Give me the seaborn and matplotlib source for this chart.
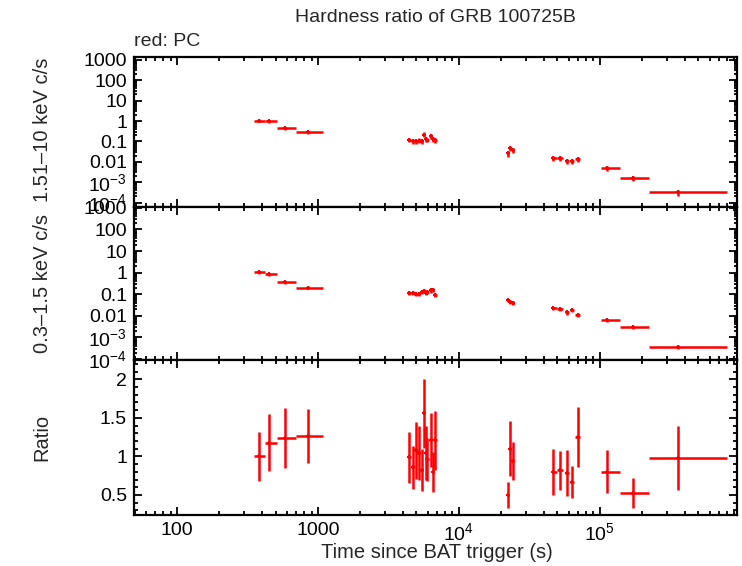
import matplotlib
matplotlib.use("Agg")
import matplotlib.pyplot as plt
import matplotlib.ticker as mticker
import pandas as pd
import seaborn as sns

# time bins (s since BAT trigger)
time = [384, 452, 587, 853,
        4442, 4694, 4955, 5177, 5465, 5648, 5834, 5960, 6298, 6570, 6790,
        22370, 23110, 24150,
        46680, 52290, 58610, 63610, 69470,
        112200, 171400, 357500]
time_lo = [351, 421, 509, 694,
           4330, 4570, 4820, 5060, 5320, 5560, 5740, 5900, 6130, 6430, 6680,
           21900, 22750, 23700,
           45500, 49500, 56500, 61500, 67000,
           101600, 138700, 222600]
time_hi = [421, 509, 694, 1091,
           4570, 4820, 5060, 5320, 5560, 5740, 5900, 6130, 6430, 6680, 6950,
           22750, 23500, 24600,
           49500, 54500, 60500, 65500, 72000,
           138700, 222600, 795900]

# 1.51-10 keV count rate
hard_rate = [1.05, 1.0, 0.45, 0.29,
             0.119, 0.103, 0.108, 0.110, 0.107, 0.218, 0.126, 0.12, 0.18, 0.128, 0.115,
             0.026, 0.046, 0.038,
             0.0148, 0.0148, 0.011, 0.011, 0.0138,
             0.0048, 0.00155, 0.00032]
hard_err = [0.2, 0.18, 0.08, 0.05,
            0.03, 0.03, 0.03, 0.03, 0.03, 0.06, 0.035, 0.03, 0.05, 0.035, 0.03,
            0.008, 0.012, 0.01,
            0.0035, 0.0035, 0.003, 0.003, 0.0035,
            0.0012, 0.0004, 0.0001]

# 0.3-1.5 keV count rate
soft_rate = [1.07, 0.83, 0.36, 0.2,
             0.12, 0.12, 0.10, 0.105, 0.13, 0.14, 0.12, 0.125, 0.15, 0.16, 0.095,
             0.053, 0.046, 0.039,
             0.022, 0.0205, 0.0144, 0.018, 0.011,
             0.0063, 0.003, 0.00036]
soft_err = [0.17, 0.13, 0.06, 0.03,
            0.025, 0.025, 0.02, 0.02, 0.025, 0.03, 0.025, 0.025, 0.03, 0.03, 0.02,
            0.01, 0.009, 0.008,
            0.004, 0.004, 0.003, 0.0035, 0.0025,
            0.001, 0.0005, 0.00007]

# hardness ratio
ratio = [1.00, 1.18, 1.24, 1.265,
         0.99, 0.86, 1.08, 1.05, 0.82, 1.56, 1.05, 0.96, 1.21, 0.80, 1.21,
         0.50, 1.10, 0.94,
         0.80, 0.82, 0.78, 0.67, 1.25,
         0.80, 0.52, 0.98]
ratio_err = [0.32, 0.37, 0.39, 0.35,
             0.33, 0.28, 0.37, 0.35, 0.27, 0.45, 0.35, 0.28, 0.35, 0.26, 0.38,
             0.17, 0.36, 0.25,
             0.30, 0.25, 0.30, 0.21, 0.39,
             0.28, 0.195, 0.42]

log_ticks = [1e-4, 1e-3, 0.01, 0.1, 1, 10, 100, 1000]
log_labels = ["10$^{-4}$", "10$^{-3}$", "0.01", "0.1", "1", "10", "100", "1000"]
x_ticks = [100, 1000, 1e4, 1e5]
x_labels = ["100", "1000", "10$^4$", "10$^5$"]

df = pd.DataFrame({"time": time, "lo": time_lo, "hi": time_hi,
                   "hard": hard_rate, "hard_err": hard_err,
                   "soft": soft_rate, "soft_err": soft_err,
                   "ratio": ratio, "ratio_err": ratio_err})

sns.set_style("ticks")
plt.rcParams["font.family"] = ["Liberation Sans", "DejaVu Sans"]
plt.rcParams["mathtext.default"] = "regular"
plt.rcParams["font.size"] = 14

W, H = 742, 566
fig = plt.figure(figsize=(W / 100, H / 100), dpi=100)
left, right = 134, 737


def panel(top, bottom):
    return fig.add_axes([left / W, 1 - bottom / H, (right - left) / W, (bottom - top) / H])


ax_hard = panel(57, 207)
ax_soft = panel(207, 360)
ax_ratio = panel(360, 515)

xerr = [df["time"] - df["lo"], df["hi"] - df["time"]]
for ax, col in [(ax_hard, "hard"), (ax_soft, "soft"), (ax_ratio, "ratio")]:
    ax.errorbar(df["time"], df[col], xerr=xerr, yerr=df[col + "_err"],
                fmt="none", ecolor="#ff0000", elinewidth=1.8, capsize=0)
    sns.scatterplot(data=df, x="time", y=col, ax=ax, color="#ff0000",
                    marker="P", s=12, linewidth=0, legend=False)

    ax.set_xscale("log")
    ax.set_xlim(49.5, 9.4e5)
    ax.set_xticks(x_ticks)
    ax.set_xticklabels(x_labels)
    ax.xaxis.set_minor_locator(mticker.LogLocator(base=10, subs=range(2, 10), numticks=20))
    ax.xaxis.set_minor_formatter(mticker.NullFormatter())
    ax.tick_params(which="both", direction="in", top=True, right=True,
                   width=1.3, colors="black", labelsize=14)
    ax.tick_params(which="major", length=6, pad=5)
    ax.tick_params(which="minor", length=3)
    for s in ax.spines.values():
        s.set_linewidth(1.6)
        s.set_color("black")
    ax.set_xlabel("")
    ax.set_ylabel("")

for ax, lims in [(ax_hard, (6.1e-5, 1370)), (ax_soft, (9e-5, 1100))]:
    ax.set_yscale("log")
    ax.set_ylim(*lims)
    ax.set_yticks(log_ticks)
    ax.set_yticklabels(log_labels)
    ax.yaxis.set_minor_locator(mticker.LogLocator(base=10, subs=range(2, 10), numticks=20))
    ax.yaxis.set_minor_formatter(mticker.NullFormatter())
    ax.tick_params(axis="y", which="minor", length=2.5)
    ax.tick_params(axis="x", labelbottom=False)

ax_ratio.set_ylim(0.24, 2.25)
ax_ratio.set_yticks([0.5, 1, 1.5, 2])
ax_ratio.set_yticklabels(["0.5", "1", "1.5", "2"])
ax_ratio.yaxis.set_minor_locator(mticker.MultipleLocator(0.1))

fig.text(435.5 / W, 1 - 18 / H, "Hardness ratio of GRB 100725B", ha="center", va="center", fontsize=14)
fig.text(left / W, 1 - 42 / H, "red: PC", ha="left", va="center", fontsize=14)
fig.text(42 / W, 1 - 130 / H, "1.51\u201310 keV c/s", rotation=90, ha="center", va="center", fontsize=14.5)
fig.text(42 / W, 1 - 283.5 / H, "0.3\u20131.5 keV c/s", rotation=90, ha="center", va="center", fontsize=14.5)
fig.text(42 / W, 1 - 437.5 / H, "Ratio", rotation=90, ha="center", va="center", fontsize=14.5)
fig.text(437 / W, 1 - 553 / H, "Time since BAT trigger (s)", ha="center", va="center", fontsize=14.5)

fig.savefig("out.png", dpi=100)
